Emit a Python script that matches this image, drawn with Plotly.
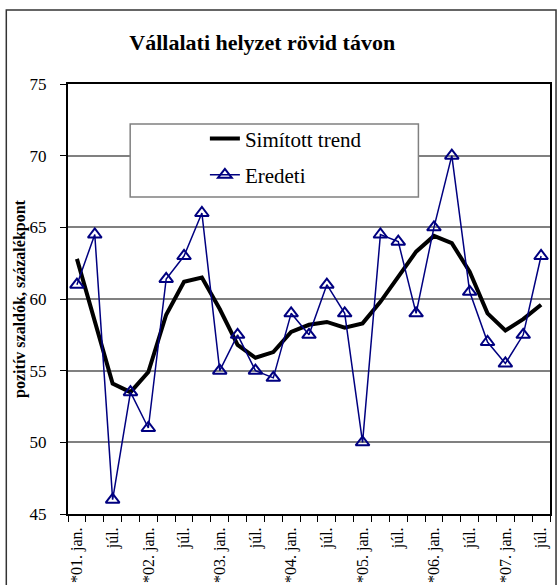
import plotly.graph_objects as go

# Negyedéves adatok, 2001 I. n.év - 2007 III. n.év
quarters = list(range(27))
tick_labels = ["*01. jan.", "júl.", "*02. jan.", "júl.", "*03. jan.", "júl.",
               "*04. jan.", "júl.", "*05. jan.", "júl.", "*06. jan.", "júl.",
               "*07. jan.", "júl."]
eredeti = [61.0, 64.5, 46.0, 53.5, 51.0, 61.4, 63.0, 66.0, 55.0, 57.5, 55.0, 54.5, 59.0, 57.5,
           61.0, 59.0, 50.0, 64.5, 64.0, 59.0, 65.0, 70.0, 60.5, 57.0, 55.5, 57.5, 63.0]
trend = [62.8, 58.5, 54.1, 53.5, 54.9, 58.9, 61.2, 61.5, 59.3, 56.8, 55.9, 56.3, 57.7, 58.2,
         58.4, 58.0, 58.3, 59.8, 61.6, 63.3, 64.4, 63.9, 61.9, 59.0, 57.8, 58.6, 59.6]

serif = "'Liberation Serif', 'Times New Roman', 'DejaVu Serif', serif"

fig = go.Figure()
fig.add_trace(go.Scatter(x=quarters, y=trend, name="Simított trend", mode="lines",
                         line=dict(color="black", width=4), legendgroup="a"))
fig.add_trace(go.Scatter(x=quarters, y=eredeti, name="Eredeti", mode="lines+markers",
                         line=dict(color="#000080", width=1.5), legendgroup="b",
                         marker=dict(symbol="triangle-up-open", size=12, color="#000080",
                                     line=dict(width=2, color="#000080"))))

# legend frame and outer chart frame
fig.add_shape(type="rect", xref="paper", yref="paper", x0=0.129, x1=0.727, y0=0.737, y1=0.907,
              fillcolor="white", line=dict(color="#808080", width=1.5), layer="above")
fig.add_shape(type="rect", xref="paper", yref="paper", x0=-0.128, x1=1.0125, y0=-0.2, y1=1.172,
              fillcolor="rgba(0,0,0,0)", line=dict(color="#333333", width=1.5), layer="above")

fig.update_layout(
    width=558, height=585,
    margin=dict(l=68, r=8, t=84, b=71, autoexpand=False),
    paper_bgcolor="white", plot_bgcolor="white",
    font=dict(family=serif, color="black"),
    title=dict(text="<b>Vállalati helyzet rövid távon</b>", font=dict(size=22, family=serif),
               xref="container", x=0.47, xanchor="center", yref="container", y=0.928, yanchor="middle"),
    showlegend=True,
    legend=dict(x=0.284, y=0.92, xanchor="left", yanchor="top", bgcolor="rgba(0,0,0,0)",
                font=dict(size=21, family=serif), tracegroupgap=6, itemwidth=30),
)
fig.update_xaxes(range=[-0.5, 26.5], tickmode="array", tickvals=quarters[::2], ticktext=tick_labels,
                 tickangle=-90, tickfont=dict(size=16), ticks="", ticklabelstandoff=5,
                 minor=dict(tickmode="array", tickvals=[q - 0.5 for q in quarters] + [26.5],
                            ticks="outside", ticklen=6, tickcolor="black", showgrid=False),
                 showline=True, linecolor="black", linewidth=2, mirror=True, showgrid=False,
                 zeroline=False, automargin=False)
fig.update_yaxes(range=[45, 75], dtick=5, ticks="outside", ticklen=6, tickcolor="black",
                 tickfont=dict(size=17), ticklabelstandoff=10,
                 title=dict(text="<b>pozitív szaldók, százalékpont</b>", font=dict(size=16), standoff=0),
                 showline=True, linecolor="black", linewidth=2, mirror=True, automargin=False,
                 showgrid=True, gridcolor="#808080", gridwidth=1.5, zeroline=False)

fig.write_html("out.html", config={"displayModeBar": False},
               post_script="document.body.style.margin='0';")
